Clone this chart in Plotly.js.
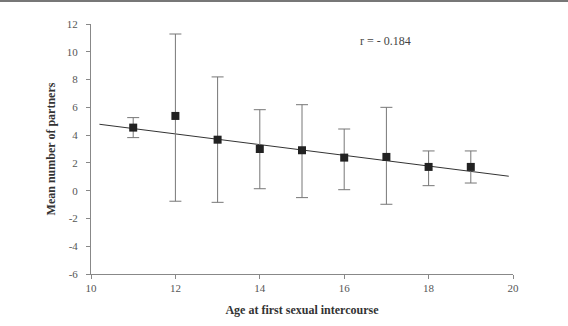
<!DOCTYPE html>
<html>
<head>
<meta charset="utf-8">
<script src="https://cdn.plot.ly/plotly-3.0.1.min.js"></script>
<style>html,body{margin:0;padding:0;background:#fff;}#chart{width:568px;height:326px;}</style>
</head>
<body>
<div id="chart"></div>
<script>
// Data
const ages = [11, 12, 13, 14, 15, 16, 17, 18, 19];
const meanPartners = [4.54, 5.38, 3.67, 3.0, 2.91, 2.38, 2.43, 1.71, 1.71];
const errUpper = [5.26, 11.28, 8.19, 5.83, 6.19, 4.44, 6.0, 2.86, 2.86];
const errLower = [3.82, -0.76, -0.84, 0.14, -0.5, 0.07, -0.98, 0.36, 0.55];
const trendX = [10.2, 19.9];
const trendY = [4.78, 1.04];
const xTicks = [10, 12, 14, 16, 18, 20];
const yTicks = [-6, -4, -2, 0, 2, 4, 6, 8, 10, 12];
const annotationText = 'r = - 0.184';

const plus = meanPartners.map((m, i) => errUpper[i] - m);
const minus = meanPartners.map((m, i) => m - errLower[i]);

const serif = '"Liberation Serif", "DejaVu Serif", serif';

const traces = [
  {
    x: trendX, y: trendY, mode: 'lines', type: 'scatter',
    line: {color: '#333', width: 1}, hoverinfo: 'skip'
  },
  {
    x: ages, y: meanPartners, mode: 'markers', type: 'scatter',
    marker: {symbol: 'square', size: 8, color: '#222'},
    error_y: {type: 'data', symmetric: false, array: plus, arrayminus: minus,
              color: '#777', thickness: 1, width: 6}
  }
];

const layout = {
  width: 568, height: 326,
  margin: {l: 91, r: 55, t: 24, b: 52},
  paper_bgcolor: '#fff', plot_bgcolor: '#fff',
  showlegend: false,
  font: {family: serif, color: '#555', size: 11},
  xaxis: {
    range: [10, 20], tickvals: xTicks, ticktext: xTicks.map(String),
    showgrid: false, zeroline: false, showline: true, linecolor: '#888', linewidth: 1,
    ticks: 'outside', ticklen: 4, tickcolor: '#888',
    tickfont: {family: serif, size: 11, color: '#555'},
    title: {text: '<b>Age at first sexual intercourse</b>', font: {family: serif, size: 12, color: '#333'}, standoff: 12}
  },
  yaxis: {
    range: [-6, 12], tickvals: yTicks, ticktext: yTicks.map(String),
    showgrid: false, zeroline: false, showline: true, linecolor: '#888', linewidth: 1,
    ticks: 'outside', ticklen: 4, tickcolor: '#888', ticklabelstandoff: 6,
    tickfont: {family: serif, size: 11, color: '#555'},
    title: {text: '<b>Mean number of partners</b>', font: {family: serif, size: 12, color: '#333'}, standoff: 8}
  },
  annotations: [{
    x: 16.97, y: 10.78, xref: 'x', yref: 'y', text: annotationText, showarrow: false,
    font: {family: serif, size: 12, color: '#444'}
  }],
  shapes: [{
    type: 'line', xref: 'paper', yref: 'paper',
    x0: -91/422, x1: (568-91)/422, y0: 1 + 23/250, y1: 1 + 23/250,
    line: {color: '#777', width: 2}
  }]
};

Plotly.newPlot('chart', traces, layout, {staticPlot: true, displayModeBar: false});
</script>
</body>
</html>
